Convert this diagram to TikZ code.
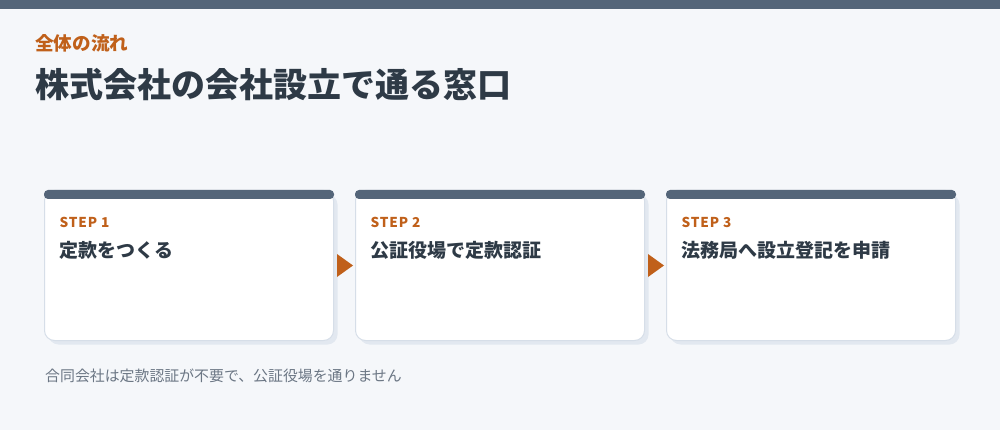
\documentclass[tikz,border=0pt]{standalone}
\usepackage{fontspec}
\setmainfont{Noto Sans CJK JP}
\usetikzlibrary{calc, positioning}

\definecolor{pagebg}{HTML}{F5F7FA}
\definecolor{bandc}{HTML}{546579}
\definecolor{orangec}{HTML}{C0601A}
\definecolor{inkc}{HTML}{2E3A46}
\definecolor{notec}{HTML}{6B7684}
\definecolor{edgec}{HTML}{D6DEE8}
\definecolor{shadec}{HTML}{E2E8F0}

\tikzset{
  card/.style={draw=edgec, line width=1pt, fill=white, rounded corners=10pt,
    minimum width=289pt, minimum height=150pt, inner sep=0pt, outer sep=0pt,
    preaction={fill=shadec, transform canvas={xshift=4pt, yshift=-4pt}}},
  steplab/.style={anchor=base west, inner sep=0pt, text=orangec,
    font=\fontsize{13.6}{16}\selectfont\bfseries\addfontfeature{LetterSpace=6}},
  steptitle/.style={anchor=base west, inner sep=0pt, text=inkc,
    font=\fontsize{19}{23}\selectfont\bfseries},
  topbar/.style={fill=bandc, rounded corners=4pt},
  pointer/.style={fill=orangec}
}

\begin{document}
\begin{tikzpicture}[x=1pt, y=1pt]
  \useasboundingbox (0,0) rectangle (1000,-430);
  \fill[pagebg] (0,0) rectangle (1000,-430);
  \fill[bandc] (0,0) rectangle (1000,-9);

  % heading
  \node[anchor=base west, inner sep=0pt, text=orangec,
    font=\fontsize{18.6}{22}\selectfont\bfseries] (kicker) at (35,-50.5) {全体の流れ};
  \node[anchor=base west, inner sep=0pt, text=inkc,
    font=\fontsize{34}{40}\selectfont\bfseries] (title) at (35,-97.5) {株式会社の会社設立で通る窓口};

  % cards
  \node[card] (s1) at (189,-265.5) {};
  \node[card, right=22pt of s1] (s2) {};
  \node[card, right=22pt of s2] (s3) {};

  \fill[topbar] ($(s1.north west)+(-0.5,0.5)$) rectangle ($(s1.north east)+(0.5,-8.5)$);
  \fill[topbar] ($(s2.north west)+(-0.5,0.5)$) rectangle ($(s2.north east)+(0.5,-8.5)$);
  \fill[topbar] ($(s3.north west)+(-0.5,0.5)$) rectangle ($(s3.north east)+(0.5,-8.5)$);

  \node[steplab] (lab1) at ($(s1.north west)+(15,-37)$) {STEP 1};
  \node[steplab] (lab2) at ($(s2.north west)+(15,-37)$) {STEP 2};
  \node[steplab] (lab3) at ($(s3.north west)+(15,-37)$) {STEP 3};

  \node[steptitle] (tit1) at ($(s1.north west)+(15,-67.5)$) {定款をつくる};
  \node[steptitle] (tit2) at ($(s2.north west)+(15,-67.5)$) {公証役場で定款認証};
  \node[steptitle] (tit3) at ($(s3.north west)+(15,-67.5)$) {法務局へ設立登記を申請};

  % pointers between cards
  \coordinate (m12) at ($(s1.east)!0.5!(s2.west)$);
  \coordinate (m23) at ($(s2.east)!0.5!(s3.west)$);
  \fill[pointer] ($(m12)+(-7.5,11.5)$) -- ($(m12)+(8.5,0)$) -- ($(m12)+(-7.5,-11.5)$) -- cycle;
  \fill[pointer] ($(m23)+(-7.5,11.5)$) -- ($(m23)+(8.5,0)$) -- ($(m23)+(-7.5,-11.5)$) -- cycle;

  % note
  \node[anchor=base west, inner sep=0pt, text=notec,
    font=\fontsize{14.9}{18}\selectfont] (note) at (45,-381) {合同会社は定款認証が不要で、公証役場を通りません};
\end{tikzpicture}
\end{document}
